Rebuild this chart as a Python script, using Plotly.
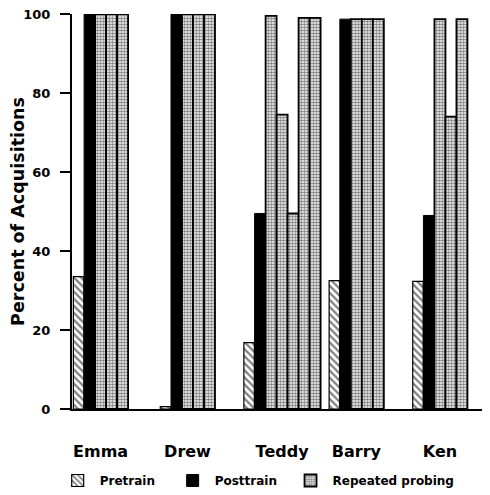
import plotly.graph_objects as go

# ---- data ----
participants = ["Emma", "Drew", "Teddy", "Barry", "Ken"]
pretrain = [33.5, 0.6, 16.8, 32.5, 32.3]
posttrain = [100, 100, 49.5, 98.7, 49]
repeated_probing = [
    [100, 100, 100],
    [100, 100, 100],
    [99.5, 74.5, 49.5, 99, 99],
    [98.7, 98.7, 98.7],
    [98.7, 74, 98.7],
]
y_ticks = [0, 20, 40, 60, 80, 100]

# ---- layout constants (bar units) ----
group_gaps = [2.9, 2.6, 0.75, 2.6]
first_start = 0.0

starts = []
s = first_start
for g, probes in enumerate(repeated_probing):
    starts.append(s)
    n = 2 + len(probes)
    if g < len(group_gaps):
        s = s + n + group_gaps[g]

pre_x = [st + 0.5 for st in starts]
post_x = [st + 1.5 for st in starts]
probe_x, probe_y = [], []
for st, probes in zip(starts, repeated_probing):
    for i, v in enumerate(probes):
        probe_x.append(st + 2.5 + i)
        probe_y.append(v)
centers = [st + (2 + len(p)) / 2 for st, p in zip(starts, repeated_probing)]

FONT = "DejaVu Sans"
fig = go.Figure()
fig.add_trace(go.Bar(
    x=pre_x, y=pretrain, width=0.95, name="Pretrain", legend="legend",
    marker=dict(color="white", line=dict(color="black", width=1.2),
                pattern=dict(shape="\\", fgcolor="black", bgcolor="white",
                             size=5, solidity=0.45)),
))
fig.add_trace(go.Bar(
    x=post_x, y=posttrain, width=1.0, name="Posttrain", legend="legend2",
    marker=dict(color="black", line=dict(color="black", width=1)),
))
fig.add_trace(go.Bar(
    x=probe_x, y=probe_y, width=1.0, name="Repeated probing", legend="legend3",
    marker=dict(color="white", line=dict(color="black", width=1.8),
                pattern=dict(shape=".", fgcolor="black", bgcolor="white",
                             size=3, solidity=0.6)),
))

leg_common = dict(orientation="h", xanchor="left", y=-0.145, yanchor="top",
                  font=dict(family=FONT, size=12, color="black", weight="bold"),
                  itemwidth=34)

fig.update_layout(
    width=482, height=487,
    margin=dict(l=64, r=0, t=6, b=85),
    paper_bgcolor="white", plot_bgcolor="white",
    barmode="overlay",
    showlegend=True,
    legend=dict(x=-0.039, **leg_common),
    legend2=dict(x=0.236, **leg_common),
    legend3=dict(x=0.518, **leg_common),
    font=dict(family=FONT, color="black"),
    xaxis=dict(
        range=[-0.1, 37.9], tickvals=centers, ticktext=participants,
        showline=True, linecolor="black", linewidth=2, ticks="",
        showgrid=False, zeroline=False, ticklabelstandoff=27,
        tickfont=dict(family=FONT, size=16, color="black", weight="bold"),
    ),
    yaxis=dict(
        range=[0, 100], tickvals=y_ticks, ticks="outside", ticklen=10,
        tickwidth=2, tickcolor="black", ticklabeloverflow="allow",
        showline=True, linecolor="black", linewidth=2, automargin=False,
        showgrid=False, zeroline=False, ticklabelstandoff=7,
        tickfont=dict(family=FONT, size=13, color="black", weight="bold"),
        title=dict(text="Percent of Acquisitions", standoff=7,
                   font=dict(family=FONT, size=17.5, color="black", weight="bold")),
    ),
)

fig.write_html("out.html")
